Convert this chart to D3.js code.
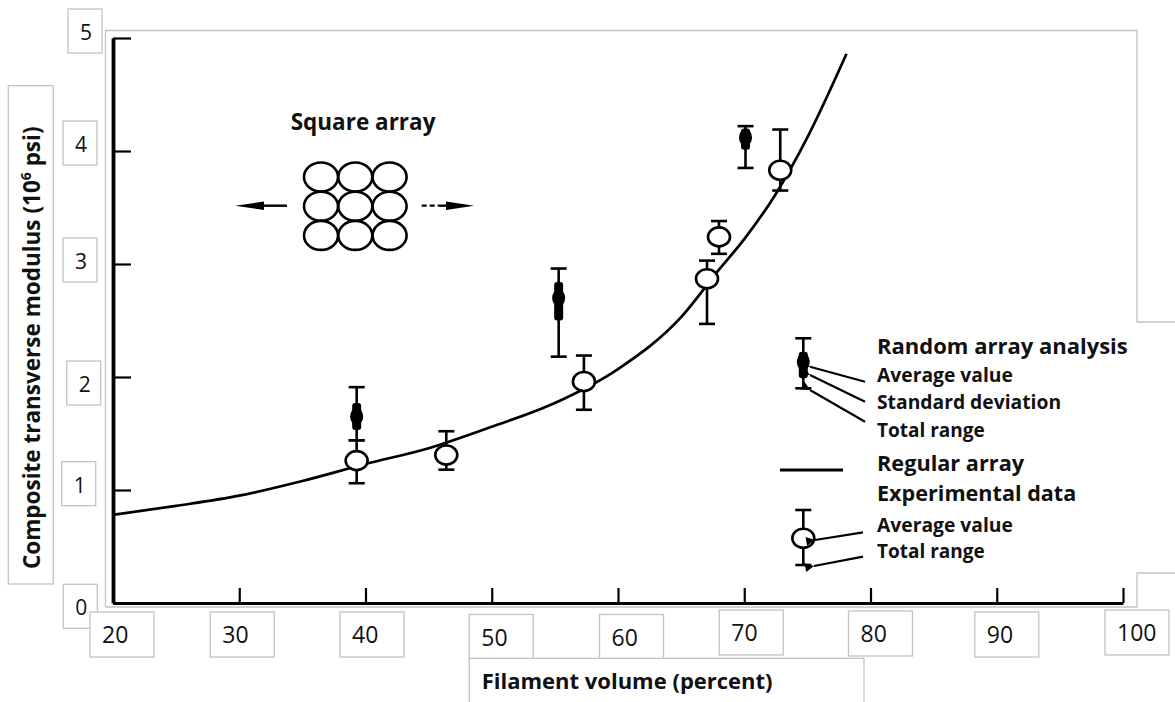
<!DOCTYPE html>
<html><head><meta charset="utf-8">
<script src="https://cdn.jsdelivr.net/npm/d3@7"></script>
<style>
html,body{margin:0;padding:0;background:#fff;}
svg{display:block;}
</style></head><body>
<svg id="chart" width="1175" height="702"></svg>
<script>
// Regular (square) array analysis: filament volume (%) vs transverse modulus (10^6 psi)
const curveVolume  = [20, 25, 30, 35, 40, 45, 50, 55, 60, 65, 68, 70, 72.5, 75, 78.1];
const curveModulus = [0.78, 0.86, 0.95, 1.08, 1.23, 1.37, 1.56, 1.77, 2.07, 2.53, 2.95, 3.22, 3.62, 4.12, 4.86];

// Experimental data: average value and total range
const expVolume = [39.3, 46.4, 57.3, 67.05, 68.0, 72.85];
const expAvg    = [1.26, 1.31, 1.96, 2.87, 3.24, 3.83];
const expLow    = [1.06, 1.18, 1.71, 2.47, 3.09, 3.65];
const expHigh   = [1.44, 1.52, 2.19, 3.03, 3.38, 4.19];

// Random array analysis: average value, standard deviation band, total range
const rndVolume = [39.3, 55.3, 70.1];
const rndAvg    = [1.65, 2.70, 4.12];
const rndSdLow  = [1.53, 2.50, 4.01];
const rndSdHigh = [1.77, 2.84, 4.20];
const rndLow    = [1.44, 2.18, 3.85];
const rndHigh   = [1.91, 2.96, 4.22];

const xTicks = [20, 30, 40, 50, 60, 70, 80, 90, 100];
const yTicks = [0, 1, 2, 3, 4, 5];

const xTitle = "Filament volume (percent)";
const yTitle = "Composite transverse modulus (10";
const yTitleSup = "6";
const yTitleTail = " psi)";
const diagramTitle = "Square array";

const BOLD = "'Open Sans', 'DejaVu Sans', sans-serif";
const BOX = "#c4c4c4";
const INK = "#000";

const svg = d3.select("#chart");
const x = d3.scaleLinear().domain([20, 100]).range([113, 1123]);
const y = d3.scaleLinear().domain([0, 5]).range([603, 38]);

// outline of the plot panel (light frame)
const frame = svg.append("g").attr("fill", "none").attr("stroke", BOX).attr("stroke-width", 1.3);
frame.append("path").attr("d", "M105.5,607 V30.5 H1137 V322 H1176");
frame.append("path").attr("d", "M105.5,607 H1137 V573 H1176");

// axes
const xAxis = d3.axisBottom(x).tickValues(xTicks).tickSize(-15).tickSizeOuter(0).tickFormat("");
const yAxis = d3.axisLeft(y).tickValues(yTicks).tickSize(-18).tickSizeOuter(0).tickFormat("");
const gx = svg.append("g").attr("transform", `translate(0,${y(0)})`).call(xAxis);
const gy = svg.append("g").attr("transform", `translate(${x(20)},0)`).call(yAxis);
gx.select(".domain").attr("stroke", INK).attr("stroke-width", 3.2);
gy.select(".domain").attr("stroke", INK).attr("stroke-width", 3.8);
gx.selectAll(".tick line").attr("stroke", INK).attr("stroke-width", 2.2);
gy.selectAll(".tick line").attr("stroke", INK).attr("stroke-width", 2.2);

// regular array curve
const line = d3.line().x(d => x(d[0])).y(d => y(d[1])).curve(d3.curveMonotoneX);
svg.append("path")
  .datum(curveVolume.map((v, i) => [v, curveModulus[i]]))
  .attr("d", line).attr("fill", "none").attr("stroke", INK).attr("stroke-width", 2.7);

// random array analysis markers
const rnd = svg.append("g");
rndVolume.forEach((v, i) => {
  const cx = x(v);
  rnd.append("line").attr("x1", cx).attr("x2", cx).attr("y1", y(rndLow[i])).attr("y2", y(rndHigh[i]))
    .attr("stroke", INK).attr("stroke-width", 2.6);
  [rndLow[i], rndHigh[i]].forEach(val => rnd.append("line")
    .attr("x1", cx - 8).attr("x2", cx + 8).attr("y1", y(val)).attr("y2", y(val))
    .attr("stroke", INK).attr("stroke-width", 2.6));
  rnd.append("rect").attr("x", cx - 4.5).attr("width", 9)
    .attr("y", y(rndSdHigh[i])).attr("height", y(rndSdLow[i]) - y(rndSdHigh[i])).attr("rx", 3).attr("fill", INK);
  rnd.append("ellipse").attr("cx", cx).attr("cy", y(rndAvg[i])).attr("rx", 6.5).attr("ry", 8.5).attr("fill", INK);
});

// experimental data markers
const exp = svg.append("g");
expVolume.forEach((v, i) => {
  const cx = x(v);
  exp.append("line").attr("x1", cx).attr("x2", cx).attr("y1", y(expLow[i])).attr("y2", y(expHigh[i]))
    .attr("stroke", INK).attr("stroke-width", 2.6);
  [expLow[i], expHigh[i]].forEach(val => exp.append("line")
    .attr("x1", cx - 8).attr("x2", cx + 8).attr("y1", y(val)).attr("y2", y(val))
    .attr("stroke", INK).attr("stroke-width", 2.6));
  exp.append("ellipse").attr("cx", cx).attr("cy", y(expAvg[i])).attr("rx", 11).attr("ry", 9.5)
    .attr("fill", "#fff").attr("stroke", INK).attr("stroke-width", 2.6);
});

// tick labels in small framed boxes
function labelBox(left, top, w, h, txt, size) {
  const g = svg.append("g");
  g.append("rect").attr("x", left).attr("y", top).attr("width", w).attr("height", h)
    .attr("fill", "#fff").attr("stroke", BOX).attr("stroke-width", 1.3);
  g.append("text").attr("x", left + 12).attr("y", top + 31).text(txt)
    .attr("font-family", "'Open Sans', sans-serif").attr("font-size", size).attr("fill", "#111");
}
const yBoxShiftX = [0.3, -1.3, 3.7, 0, 0, 5];
const yBoxShiftY = [5.3, -4.3, 8, -2, -6, -5];
yTicks.forEach((v, i) => labelBox(63 + yBoxShiftX[i], y(v) - 24 + yBoxShiftY[i], 34, 44, v, 21));
const xBoxShiftX = [-1, -7, -3.5, -0.5, 3.5, -3, 0, 0, 4];
const xBoxShiftY = [0, 0, 0, 2.5, 2.5, -2, -1, 0, -2];
xTicks.forEach((v, i) => labelBox(x(v) - 22 + xBoxShiftX[i], y(0) + 9 + xBoxShiftY[i], 64, 45, v, 23));

// axis titles
svg.append("rect").attr("x", 469.3).attr("y", 658.3).attr("width", 394.7).attr("height", 60)
  .attr("fill", "#fff").attr("stroke", BOX).attr("stroke-width", 1.3);
svg.append("text").attr("x", 481.7).attr("y", 689.3).text(xTitle)
  .attr("font-family", BOLD).attr("font-weight", 700).attr("font-size", 22).attr("fill", "#111");

svg.append("rect").attr("x", 8.3).attr("y", 85.7).attr("width", 45).attr("height", 498.3)
  .attr("fill", "#fff").attr("stroke", BOX).attr("stroke-width", 1.3);
const yt = svg.append("text").attr("transform", "translate(40,569) rotate(-90)")
  .attr("font-family", BOLD).attr("font-weight", 700).attr("font-size", 22.5).attr("fill", "#111");
yt.append("tspan").text(yTitle);
yt.append("tspan").text(yTitleSup).attr("font-size", 14).attr("dy", -9);
yt.append("tspan").text(yTitleTail).attr("dy", 9);

// square array sketch
const sq = svg.append("g");
sq.append("text").attr("x", 290.7).attr("y", 130).text(diagramTitle)
  .attr("font-family", BOLD).attr("font-weight", 700).attr("font-size", 22.5).attr("fill", "#111");
d3.range(3).forEach(r => d3.range(3).forEach(c => sq.append("ellipse")
  .attr("cx", 321 + c * 34.3).attr("cy", 177 + r * 29.2).attr("rx", 17).attr("ry", 14.5)
  .attr("fill", "none").attr("stroke", INK).attr("stroke-width", 2.6)));
sq.append("line").attr("x1", 287).attr("x2", 255).attr("y1", 205.7).attr("y2", 205.7).attr("stroke", INK).attr("stroke-width", 2.4);
sq.append("path").attr("d", "M235,205.7 L264,201.5 L264,209.9 Z").attr("fill", INK);
sq.append("line").attr("x1", 421.7).attr("x2", 440).attr("y1", 205.7).attr("y2", 205.7)
  .attr("stroke", INK).attr("stroke-width", 2.2).attr("stroke-dasharray", "5,3");
sq.append("line").attr("x1", 440).attr("x2", 455).attr("y1", 205.7).attr("y2", 205.7).attr("stroke", INK).attr("stroke-width", 2.4);
sq.append("path").attr("d", "M474,205.7 L446,201.5 L446,209.9 Z").attr("fill", INK);

// legend
const lg = svg.append("g");
svg.append("defs").append("marker").attr("id", "tip").attr("viewBox", "0 0 10 10")
  .attr("refX", 0).attr("refY", 5).attr("markerWidth", 5).attr("markerHeight", 4)
  .attr("orient", "auto-start-reverse").append("path").attr("d", "M0,5 L10,0 L10,10 Z").attr("fill", INK);
function leader(x1, y1, x2, y2) {
  lg.append("line").attr("x1", x1).attr("y1", y1).attr("x2", x2).attr("y2", y2)
    .attr("stroke", INK).attr("stroke-width", 2.2).attr("marker-start", "url(#tip)");
}
// random array symbol
lg.append("line").attr("x1", 803.3).attr("x2", 803.3).attr("y1", 338.3).attr("y2", 388.3).attr("stroke", INK).attr("stroke-width", 2.6);
[338.3, 388.3].forEach(yy => lg.append("line").attr("x1", 795.3).attr("x2", 811.3).attr("y1", yy).attr("y2", yy).attr("stroke", INK).attr("stroke-width", 2.6));
lg.append("rect").attr("x", 798.8).attr("width", 9).attr("y", 351.7).attr("height", 26.6).attr("rx", 3).attr("fill", INK);
lg.append("ellipse").attr("cx", 803.3).attr("cy", 361.7).attr("rx", 6.5).attr("ry", 8.5).attr("fill", INK);
leader(810, 366.7, 865, 381.7);
leader(810, 375, 865, 401.7);
leader(810, 390, 865, 421.7);
// regular array symbol
lg.append("line").attr("x1", 780).attr("x2", 843).attr("y1", 470).attr("y2", 470).attr("stroke", INK).attr("stroke-width", 2.8);
// experimental symbol
lg.append("line").attr("x1", 803.3).attr("x2", 803.3).attr("y1", 510).attr("y2", 565).attr("stroke", INK).attr("stroke-width", 2.6);
[510, 565].forEach(yy => lg.append("line").attr("x1", 795.3).attr("x2", 811.3).attr("y1", yy).attr("y2", yy).attr("stroke", INK).attr("stroke-width", 2.6));
lg.append("ellipse").attr("cx", 803.3).attr("cy", 538.3).attr("rx", 11).attr("ry", 9.5).attr("fill", "#fff").attr("stroke", INK).attr("stroke-width", 2.6);
leader(815, 540, 863, 532.3);
leader(814, 566, 863, 556.7);

const legendText = [
  ["Random array analysis", 354, 22],
  ["Average value", 381.7, 19.3],
  ["Standard deviation", 409.3, 19.3],
  ["Total range", 436.7, 19],
  ["Regular array", 471.2, 21.7],
  ["Experimental data", 501, 21.6],
  ["Average value", 532, 19.3],
  ["Total range", 558.3, 19]
];
legendText.forEach(([t, yy, fs]) => lg.append("text").attr("x", 877).attr("y", yy).text(t)
  .attr("font-family", BOLD).attr("font-weight", 700).attr("font-size", fs).attr("fill", "#111"));
</script>
</body></html>
